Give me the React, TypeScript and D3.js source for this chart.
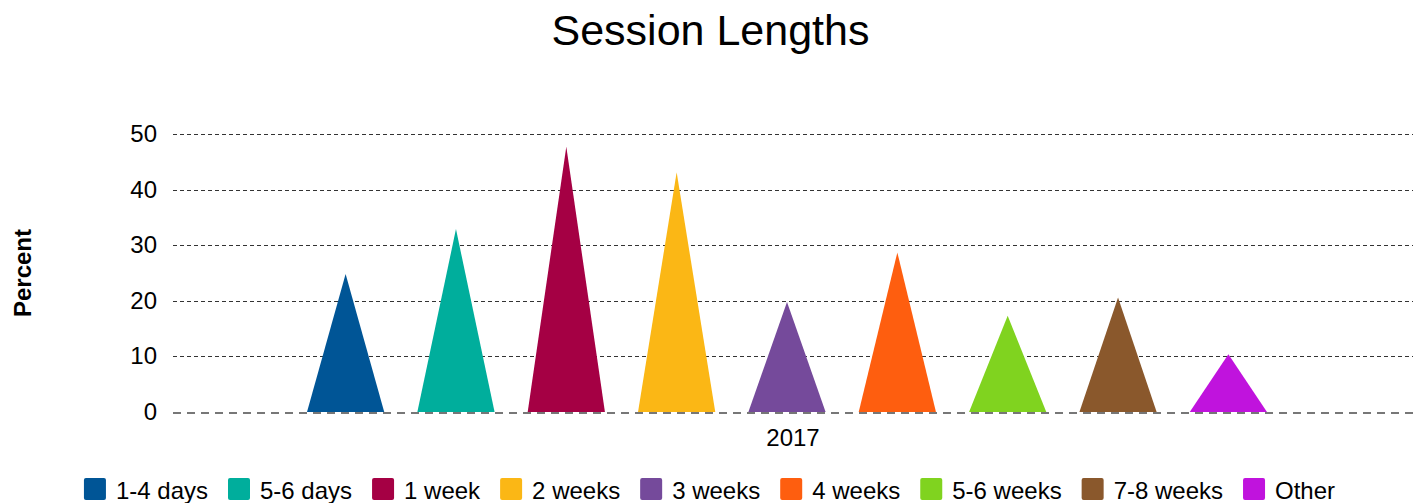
import React, { useRef, useEffect } from "react";
import * as d3 from "d3";

const categories = ["2017"];
const seriesNames = [
  "1-4 days",
  "5-6 days",
  "1 week",
  "2 weeks",
  "3 weeks",
  "4 weeks",
  "5-6 weeks",
  "7-8 weeks",
  "Other",
];
const seriesValues = [24.8, 32.9, 47.7, 43.1, 19.8, 28.7, 17.3, 20.6, 10.4];
const seriesColors = [
  "#005596",
  "#00ae9c",
  "#a50044",
  "#fbb715",
  "#754a9b",
  "#fe5e0f",
  "#80d31f",
  "#8a582c",
  "#c013dd",
];
const yTicks = [0, 10, 20, 30, 40, 50];

const W = 1423;
const H = 503;
const FONT = "'Liberation Sans', Arial, sans-serif";

const App = () => {
  const svgRef = useRef<SVGSVGElement>(null);

  useEffect(() => {
    const margin = { top: 134, right: 10, bottom: 91, left: 173 };
    const svg = d3.select(svgRef.current);
    svg.selectAll("*").remove();

    const x0 = d3
      .scaleBand()
      .domain(categories)
      .range([margin.left, W - margin.right]);

    const x1 = d3
      .scaleBand()
      .domain(seriesNames)
      .range([x0("2017")! + 134, x0("2017")! + x0.bandwidth() - 146])
      .paddingInner(0.3)
      .paddingOuter(0);

    const y = d3
      .scaleLinear()
      .domain([0, 50])
      .range([H - margin.bottom, margin.top]);

    // Title
    svg
      .append("text")
      .attr("x", W / 2 - 1)
      .attr("y", 45)
      .attr("text-anchor", "middle")
      .attr("font-family", FONT)
      .attr("font-size", "43px")
      .attr("fill", "#000")
      .text("Session Lengths");

    // Gridlines
    svg
      .append("g")
      .selectAll("line")
      .data(yTicks.filter((t) => t !== 0))
      .enter()
      .append("line")
      .attr("x1", margin.left)
      .attr("x2", W - margin.right)
      .attr("y1", (d) => Math.round(y(d)) + 0.5)
      .attr("y2", (d) => Math.round(y(d)) + 0.5)
      .attr("stroke", "#333")
      .attr("stroke-width", 1)
      .attr("stroke-dasharray", "4,3");

    // Y tick labels
    svg
      .append("g")
      .selectAll("text")
      .data(yTicks)
      .enter()
      .append("text")
      .attr("x", 157)
      .attr("y", (d) => y(d) + 8)
      .attr("text-anchor", "end")
      .attr("font-family", FONT)
      .attr("font-size", "24px")
      .attr("fill", "#000")
      .text((d) => d);

    // Y axis title
    svg
      .append("text")
      .attr("transform", `translate(31,${(y(0) + y(50)) / 2}) rotate(-90)`)
      .attr("text-anchor", "middle")
      .attr("font-family", FONT)
      .attr("font-size", "24px")
      .attr("font-weight", "bold")
      .attr("fill", "#000")
      .text("Percent");

    // Triangles
    const tri = (i: number) => {
      const name = seriesNames[i];
      const l = x1(name)!;
      const r = l + x1.bandwidth();
      const c = l + x1.bandwidth() / 2;
      const path = d3.path();
      path.moveTo(l, y(0));
      path.lineTo(c, y(seriesValues[i]));
      path.lineTo(r, y(0));
      path.closePath();
      return path.toString();
    };

    svg
      .append("g")
      .selectAll("path")
      .data(seriesNames)
      .enter()
      .append("path")
      .attr("d", (_, i) => tri(i))
      .attr("fill", (_, i) => seriesColors[i]);

    // Zero line
    svg
      .append("line")
      .attr("x1", margin.left)
      .attr("x2", W - margin.right)
      .attr("y1", y(0) + 1)
      .attr("y2", y(0) + 1)
      .attr("stroke", "#777")
      .attr("stroke-width", 2)
      .attr("stroke-dasharray", "8,6");

    // Category label
    svg
      .append("text")
      .attr("x", x0("2017")! + x0.bandwidth() / 2)
      .attr("y", 446)
      .attr("text-anchor", "middle")
      .attr("font-family", FONT)
      .attr("font-size", "24px")
      .attr("fill", "#000")
      .text(categories[0]);

    // Legend
    const legend = svg.append("g");
    const items = legend
      .selectAll("g")
      .data(seriesNames)
      .enter()
      .append("g");

    items
      .append("rect")
      .attr("width", 22)
      .attr("height", 22)
      .attr("y", 478)
      .attr("rx", 2)
      .attr("fill", (_, i) => seriesColors[i]);

    const texts = items
      .append("text")
      .attr("x", 32)
      .attr("y", 499)
      .attr("font-family", FONT)
      .attr("font-size", "24px")
      .attr("fill", "#000")
      .text((d) => d);

    const widths: number[] = [];
    texts.each(function () {
      widths.push((this as SVGTextElement).getComputedTextLength());
    });
    const itemW = widths.map((w) => 32 + w);
    const total = d3.sum(itemW) + 20 * (itemW.length - 1);
    let cx = W / 2 - 2 - total / 2;
    const offsets: number[] = [];
    itemW.forEach((w) => {
      offsets.push(cx);
      cx += w + 20;
    });
    items.attr("transform", (_, i) => `translate(${offsets[i]},0)`);
  }, []);

  return (
    <div style={{ position: "absolute", left: 0, top: 0, width: W, height: H, background: "#fff" }}>
      <svg ref={svgRef} width={W} height={H} style={{ display: "block" }}></svg>
    </div>
  );
};

export default App;
